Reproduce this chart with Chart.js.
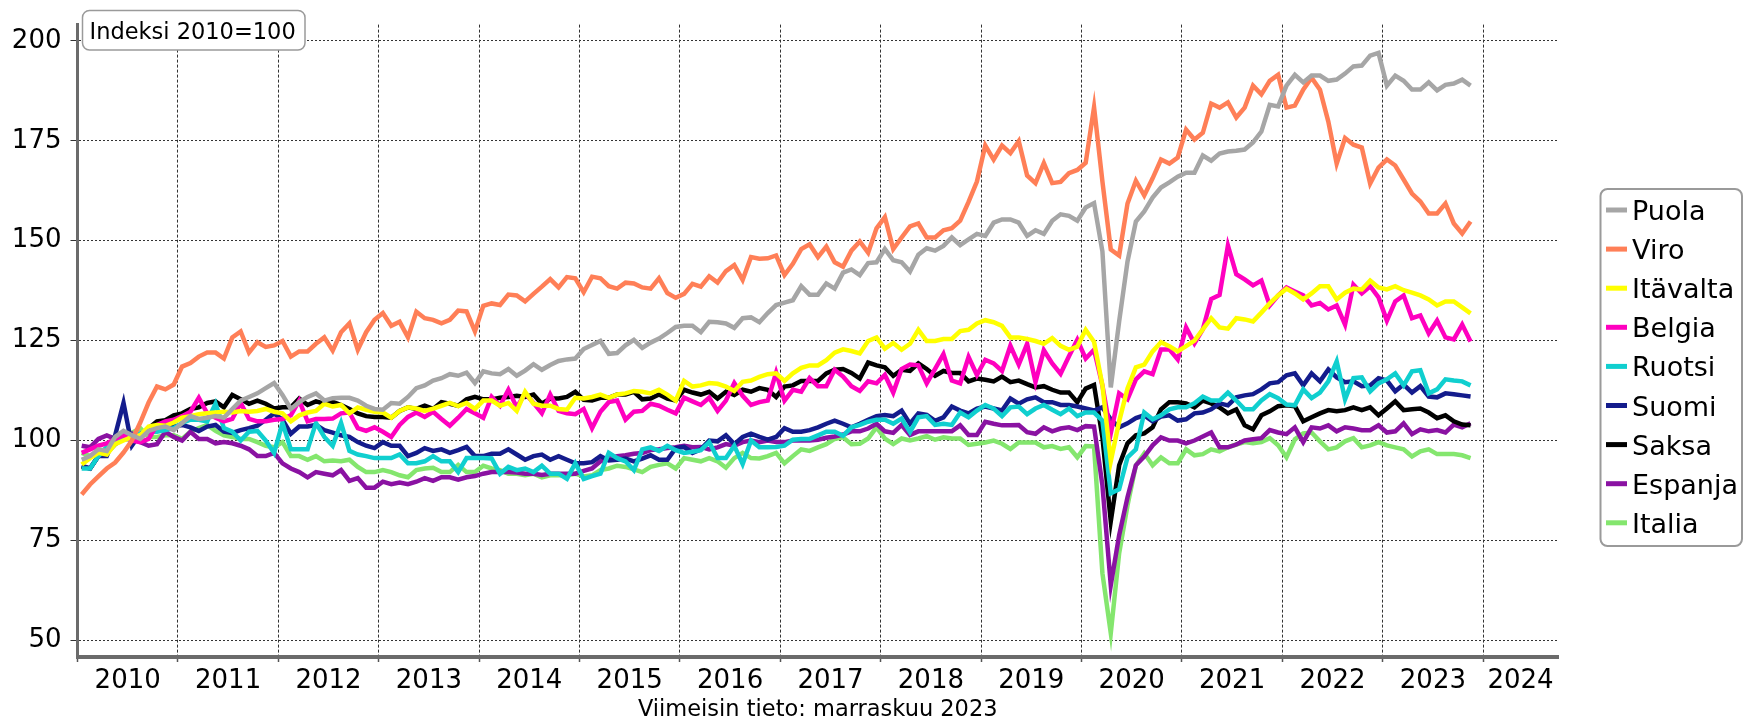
<!DOCTYPE html>
<html>
<head>
<meta charset="utf-8">
<script src="https://cdn.jsdelivr.net/npm/chart.js@4.4.0/dist/chart.umd.min.js"></script>
<style>
html,body{margin:0;padding:0;background:#fff;overflow:hidden}
#wrap{width:1744px;height:722px;position:relative}
</style>
</head>
<body>
<div id="wrap"><canvas id="c" width="1744" height="722"></canvas></div>
<script>
const startYear = 2010;
const yearTicks = [2010,2011,2012,2013,2014,2015,2016,2017,2018,2019,2020,2021,2022,2023,2024];
const yearLabels = ['2010','2011','2012','2013','2014','2015','2016','2017','2018','2019','2020','2021','2022','2023','2024'];
const yTicks = [50,75,100,125,150,175,200];
const boxLabel = 'Indeksi 2010=100';
const footerText = 'Viimeisin tieto: marraskuu 2023';
const seriesNames = ['Puola','Viro','Itävalta','Belgia','Ruotsi','Suomi','Saksa','Espanja','Italia'];
const seriesColors = ['#A6A6A6','#FF7F57','#FFFF00','#FF00BF','#10CFCF','#141C8C','#000000','#8A12A2','#84E66E'];

const puola = [95.2,96.1,97.8,97.4,100.9,102.4,101.3,100.4,102.4,103.1,
103.5,102.6,104.4,106.1,105.4,105.7,106.1,105.7,107.9,110,
110.9,111.8,113.1,114.4,111.4,107.9,109.6,110.9,111.8,110,
110.6,110.7,110.7,110,108.7,107.9,107.7,109.4,109.2,110.9,
113.1,113.8,115,115.6,116.6,116.2,117,114.4,117.3,116.8,
116.6,117.9,116.2,117.5,119.1,117.7,118.9,119.9,120.3,120.5,
122.9,123.9,124.9,121.7,121.9,123.8,125.2,123.2,124.5,125.5,
126.9,128.4,128.7,128.7,127.1,129.7,129.6,129.3,128.2,130.6,
130.8,129.6,131.9,133.9,134.5,135.1,138.6,136.5,136.5,139.3,
138,142,142.8,141.4,144.4,144.6,147.9,145.1,144.6,142.3,
146.5,148.1,147.5,148.7,150.8,148.9,150.3,151.7,151.2,154.5,
155.3,155.3,154.5,151.2,152.6,151.7,155,156.6,156.2,155,
158.3,159.4,147.3,113.3,129.8,144.8,154.8,157.3,160.8,163.3,
164.6,166,167,167,171.3,170,171.8,172.3,172.5,172.8,
174.6,177.3,184,183.6,188.8,191.5,189.6,191.3,191.3,190,
190.3,191.8,193.6,193.8,196.3,197,188.8,191.3,190,187.8,
187.8,189.6,187.6,189,189.3,190.3,188.8];

const viro = [86.5,89,91,93,94.5,97,100,104.5,109.5,113.5,
112.8,114,118.5,119.4,121,122,122,120.5,125.8,127.3,
122,124.6,123.4,123.8,124.9,121,122.3,122.3,124.2,125.8,
122.5,127.1,129.3,122.7,127.1,130.2,131.9,128.7,129.7,125.8,
132.2,130.6,130.2,129.3,130.2,132.5,132.3,127.3,133.7,134.3,
133.9,136.5,136.3,134.8,136.7,138.5,140.4,138.3,140.9,140.6,
137.1,141,140.6,138.6,138,139.5,139.3,138.3,138,140.6,
136.9,135.7,136.7,139.2,138.5,141.1,139.5,142.4,143.9,140.2,
145.9,145.5,145.6,146.3,141.4,144.2,147.9,149.1,145.9,148.5,
144.6,143.5,147.5,149.8,147,153.1,155.9,147.9,150.8,153.6,
154.3,150.8,150.8,152.6,153.1,155,159.7,164.8,173.8,170.3,
173.8,171.9,174.9,166.3,164.4,169.4,164.4,164.7,166.9,167.7,
169.5,183.4,164.8,147.8,146.3,159.3,165,161.3,165.6,170.3,
169.3,170.8,177.8,175.3,177,184.3,183.3,184.6,180.8,183.3,
188.8,186.6,190,191.5,183.3,183.8,187.8,190.8,187.8,179.8,
169.3,175.7,174,173.3,164.3,168.3,170.3,168.8,165.3,161.8,
159.8,156.8,156.8,159.3,154.3,151.8,154.8];

const itavalta = [94,95.6,96.9,96.5,99.1,100,100.9,101.3,103.5,103.9,
103.7,104.5,105.7,106.1,106.6,106.8,107,107.2,107,107.4,
107.2,107.4,107.9,107.2,106.8,104.8,106.3,107,107.4,109.2,
108.5,108.9,106.8,108.3,107.7,107.2,107,105.7,107.4,108.3,
108,107.4,108,108.7,109.4,108.6,109.4,107.9,110,110,
108.7,109.4,107.4,112.2,109.2,108.7,108.7,107.9,107.7,110.7,
110.5,110.9,111.5,110.7,111.5,111.8,112.4,112.2,111.8,112.7,
111.5,110,114.9,113.5,113.8,114.4,114.2,113.5,112.4,114.7,
115,115.9,116.6,116.8,114.9,116.8,118.2,118.8,118.8,120.1,
122,122.8,122.4,121.8,124.9,125.8,123,124.4,122.7,124.2,
127.7,124.9,124.9,125.4,125.4,127.4,127.7,129.3,130.1,129.6,
128.7,125.8,125.8,125.4,124.9,124.2,125.6,123.7,122.7,123.5,
127.7,124.7,113.8,94.8,104.8,113,118.3,119,122.3,124.6,
123.6,122.3,123.6,125,127.8,130.6,128.3,128,130.6,130.3,
129.8,132,134.3,136.3,138,136.8,135.3,136.8,138.6,138.6,
135.3,137,138,137.8,140,138.3,137.8,138.6,137.6,137,
136.3,135.3,133.8,134.8,134.8,133.3,131.8];

const belgia = [96.9,97.8,98.7,99.3,100.4,101.3,100,99.6,100.4,103.9,
104.8,105.2,106.1,107.2,110.7,106.8,105.7,104.8,105.4,109.4,
105.4,104.8,104.8,105.2,105.4,106.3,110,104.8,105.4,105.4,
105.5,106.8,107,103.1,102.4,103.3,102.2,100.9,103.9,105.9,
107,105.9,107.2,105.4,103.7,105.7,107.9,106.8,105.7,110.9,
108.7,112.7,108.3,111.8,109.4,106.8,111.5,107.4,106.8,106.6,
107.9,103.1,107.2,109.6,110,105.2,107.2,107.4,109.2,108.7,
107.7,106.8,110.7,109.8,108.9,110.7,107.4,110,114.4,111.2,
108.9,109.6,110,117,110,112.7,112.2,115.6,113.6,113.6,
117.7,116,113.6,112.4,114.8,114.3,116.4,112,117.9,119,
118.8,114.3,117.9,121.6,115,114.3,120.9,116.4,120.2,119.3,
117.4,123.7,119,124.2,114.6,122.6,119.3,116.7,121.1,125.2,
120.5,122.7,113.8,101.8,111.8,110.3,115.3,117.3,116.6,122.8,
122.8,120.3,128.3,124.3,127.8,135.4,136.4,148.8,141.6,140.3,
138.8,140,133.8,136.3,138.3,137.3,136.3,133.8,134.4,132.8,
133.8,129,139,136.8,138.6,135.8,130,134.8,136.3,130.6,
131.3,126.8,130,125.8,125.3,129,124.8];

const ruotsi = [93,93,96.1,98.3,99.6,100.9,101.3,101.7,102.2,102.2,
102.6,103.1,104.4,105.2,105.2,104.8,109.2,103.1,102.2,100,
102.2,102.4,100,96.9,104.4,97.8,97.8,97.8,104.4,100.9,
98.7,104.4,97.4,96.5,96.1,95.6,95.6,95.6,96.5,94.3,
94.3,94.8,96.1,94.8,94.8,92.1,95.6,95.6,95.6,95.5,
91.7,93.4,92.6,93,92.1,93.7,91.7,91.7,90.4,94.3,
90.4,91.1,91.7,96.9,95.6,94.8,92.6,97.8,98.3,97.4,
98.7,97.6,96.9,97.2,97.6,99.6,95.6,95.6,98.7,94.1,
100,98.3,98.3,98.4,98.7,100.2,100.4,100.4,101.3,102.2,
102.2,101.2,103.3,103.9,104.7,105.2,105.2,104.2,105.5,102.1,
105.8,106.1,103.9,104.2,103.9,107,105.8,107.5,108.9,108,
106.1,108.3,108.5,106.6,108,108.9,107.7,106.6,108,106.1,
107,107,105,86.8,87.8,95.8,97.8,107,105.3,106.3,
107.8,108.3,108.3,109.3,111,110,110,112,110,107.8,
107.8,110,111.6,110.6,109,108.8,112.8,110.6,112,114.8,
119.8,110.3,115.6,115.8,112.3,114.3,115.3,116.8,113.8,117.3,
117.6,111.8,112.8,115.3,115,114.8,113.8];

const suomi = [93.7,93,96.1,96.1,101.3,109.4,98.7,101.7,102.2,102.4,
103.9,103.5,103.9,103.3,102.4,103.5,103.9,102.2,101.9,102.6,
103.1,103.7,105.2,106.8,105.2,101.7,103.5,103.5,103.9,102.6,
102,101.3,100.9,99.6,98.7,98.1,99.6,98.7,98.7,96.1,
96.9,98.1,97.4,97.8,96.9,97.6,98.4,96.1,96.1,96.7,
96.7,97.8,96.5,95.2,96.1,96.5,95.2,96.1,95.2,94.3,
94.3,94.6,96.1,95,95.2,95.5,94.8,95.5,96.3,95.2,
95.2,98.1,98.4,96.9,97.8,100,99.8,101.3,99.1,100.9,
101.7,100.9,100.2,100.9,103.1,102.2,102.2,102.6,103.3,104.2,
105,104.2,103.3,104.2,105.2,106.1,106.4,106.1,107.5,104.2,
106.8,106.4,104.9,105.8,108.5,107.5,106.8,108,108.5,108,
107.5,110.5,109.2,110.3,110.8,109.6,109.6,108.9,108.9,108.5,
108,107.5,108.3,105.3,103.3,104.3,105.6,106.3,104.8,106,
106.3,105,105.3,106.8,107,107.8,109.3,108.8,110.8,111.3,
111.6,112.8,114.3,114.6,116.3,116.8,113.8,116.8,114.8,117.8,
115.8,114.6,114.8,113.6,113.8,115.6,115,112.3,114,112,
113.6,111,110.8,111.8,111.6,111.3,111];

const saksa = [93.4,93,96.1,96.9,99.1,100.4,100.4,101.3,103.1,104.8,
105.1,106.3,106.8,107.9,108.3,109.4,109.8,108.3,111.4,110.3,
109.2,110,109.2,108,108.3,108.3,110.5,108.9,109.8,109.2,
109.7,108.9,107.9,106.8,106.1,105.9,105.9,105.7,107.4,108.3,
107.9,108.7,107.9,109.6,109.2,108.7,110.3,110.9,110.3,110.3,
110.7,110.9,111.2,110.9,111.5,109.2,110.5,110.5,110.9,112.2,
110.2,110,110.7,110.7,111.5,111.5,112.2,110.3,110.5,111.5,
110.5,110,112.7,112,111.5,112.2,110.5,112.2,111.4,112.7,
112.2,113.1,112.7,110.9,113.5,113.8,114.9,114.9,114.9,116.8,
117.7,117.9,116.9,115.5,119.5,118.8,118.3,116.2,117.7,117.4,
119.3,117.9,116.2,117.4,116.9,116.9,114.8,115.5,115.2,114.8,
116,114.6,115,114.1,113.3,113.6,112.7,112,112,109.6,
113,113.9,100.8,79.8,93.8,99.3,101.3,101.8,103.3,107.8,
109.6,109.6,109.3,108.3,110,109.3,108.3,106.8,107.8,103.8,
102.8,106.3,107.3,108.6,108.8,108.6,104.8,105.8,106.8,107.6,
107.3,107.6,108.3,107.6,108.3,106.3,108,109.8,107.6,107.8,
108,107,105.6,106.3,104.8,104,103.8];

const espanja = [98.7,98.3,100.4,101.3,100.4,101.3,101.7,99.6,98.7,99.1,
102.2,100.9,100,102.2,100.4,100.4,99.3,99.6,99.3,98.7,
97.8,96.1,96.1,96.9,94.3,93,92.1,90.8,92.1,91.7,
91.3,92.6,89.9,90.6,88.2,88.2,89.7,89.1,89.5,89.1,
89.7,90.6,89.9,90.8,90.8,90.2,90.8,91.1,91.7,92.1,
92.1,92.1,92,91.7,91.7,91.4,91.7,91.7,91.7,91.7,
92.4,93,94.8,95.6,96.1,96.3,96.7,96.9,97.6,97.8,
98.1,98.3,98.7,98.3,98.4,97.8,98.3,99.1,98.7,99.6,
100,99.6,100,99.6,99.6,100,100,100,100.2,100.7,
101,101.5,102.3,102.3,103,104.2,102.3,101.9,103.9,101.4,
102.3,102.3,102.3,102.3,102.3,103.8,101.4,101.4,104.7,104.2,
103.8,103.8,103.9,102.1,101.7,103.3,102.3,103,103.3,102.6,
103.6,103.5,88.8,63.8,76.3,85.8,93.8,96,98.8,100.8,
100,100,99.3,100,101,102,98.3,98.3,99,100,
100.3,100.6,102.6,102,101.6,103.3,99.6,103.3,103,103.8,
102.3,103.3,103,102.6,102.6,103.8,102,102.3,104.3,101.6,
102.8,102.3,102.6,102,104,103.3,104.3];

const italia = [96.9,96.1,96.7,98.3,99.6,100.4,101.9,103.1,100.9,100.9,
101.3,101.3,100.4,102.2,103.1,103.9,102.4,101.3,100.9,100.4,
100.4,99.6,98.7,98.3,99.6,96.1,96.1,95.2,96.1,94.8,
95,94.8,95.2,93.4,92.1,92.1,92.6,92.1,91.3,90.8,
92.6,93,93.2,92.1,92.1,93.9,92.1,92.1,93.7,93,
92.6,91.7,91.7,91.3,91.7,90.8,91.3,91.3,91.3,91.7,
91,91.3,92.6,93,93.7,93.4,92.8,92.1,93.4,93.9,
94.3,93,95.6,95.2,94.8,95.6,94.8,93.2,95.6,96.9,
95.6,95.5,96.1,96.9,94.3,96.1,97.8,97.4,98.3,99.1,
100.4,100.8,99.1,99.2,100.5,103.3,100.5,99.1,100.5,100,
100.5,101.1,100.2,100.8,100.5,100.5,98.9,99.2,99.5,100,
99.2,97.9,99.5,99.5,99.5,98.3,98.6,97.9,98.3,95.8,
98.6,98.5,66.8,51.8,71.8,83.8,93.8,96.8,93.8,95.8,
94.3,94.3,97.8,96.3,96.6,97.8,97.3,98.3,99,99.6,
99.3,99.6,100.6,98.8,95.8,100.3,101.8,102,99.8,97.8,
98.3,99.8,100.6,98.3,98.8,99.6,98.8,98.3,97.8,96,
97.3,97.8,96.6,96.6,96.6,96.3,95.6];

const seriesValues = [puola, viro, itavalta, belgia, ruotsi, suomi, saksa, espanja, italia];

const FONT = 'DejaVu Sans';
const X_MIN = 2010, X_MAX = 2024.746;

function monthPos(i) { return startYear + (i + 0.5) / 12; }

const datasets = seriesNames.map((name, k) => ({
  label: name,
  data: seriesValues[k].map((v, i) => ({ x: monthPos(i), y: v })),
  borderColor: seriesColors[k],
  backgroundColor: seriesColors[k],
  borderWidth: 4.5,
  pointRadius: 0,
  tension: 0,
  fill: false
}));

function roundRect(ctx, x, y, w, h, r) {
  ctx.beginPath();
  ctx.moveTo(x + r, y);
  ctx.lineTo(x + w - r, y);
  ctx.arcTo(x + w, y, x + w, y + r, r);
  ctx.lineTo(x + w, y + h - r);
  ctx.arcTo(x + w, y + h, x + w - r, y + h, r);
  ctx.lineTo(x + r, y + h);
  ctx.arcTo(x, y + h, x, y + h - r, r);
  ctx.lineTo(x, y + r);
  ctx.arcTo(x, y, x + r, y, r);
  ctx.closePath();
}

const decor = {
  id: 'decor',
  afterDraw(chart) {
    const ctx = chart.ctx;
    const xs = chart.scales.x;
    const area = chart.chartArea;
    ctx.save();
    // year labels centred between year gridlines
    ctx.fillStyle = '#000';
    ctx.font = '26px "' + FONT + '"';
    ctx.textAlign = 'center';
    ctx.textBaseline = 'middle';
    yearTicks.forEach((yr, k) => {
      const a = xs.getPixelForValue(yr);
      const b = xs.getPixelForValue(Math.min(yr + 1, X_MAX));
      ctx.fillText(yearLabels[k], (a + b) / 2, 681);
    });
    // footer
    ctx.font = '22.5px "' + FONT + '"';
    ctx.fillText(footerText, (area.left + area.right) / 2, 710);

    // index label box
    ctx.font = '22.5px "' + FONT + '"';
    roundRect(ctx, 82.5, 10.5, 222.5, 39.5, 7);
    ctx.fillStyle = '#fff';
    ctx.fill();
    ctx.lineWidth = 1.5;
    ctx.strokeStyle = '#9a9a9a';
    ctx.stroke();
    ctx.fillStyle = '#000';
    ctx.textAlign = 'left';
    ctx.textBaseline = 'alphabetic';
    ctx.fillText(boxLabel, 89.5, 38.5);

    // legend
    roundRect(ctx, 1600.5, 189, 141.5, 357, 7);
    ctx.fillStyle = '#fff';
    ctx.fill();
    ctx.lineWidth = 2;
    ctx.strokeStyle = '#9a9a9a';
    ctx.stroke();
    ctx.font = '27px "' + FONT + '"';
    chart.data.datasets.forEach((ds, k) => {
      const y = 210 + k * 39.1;
      ctx.strokeStyle = ds.borderColor;
      ctx.lineWidth = 5;
      ctx.beginPath();
      ctx.moveTo(1606, y);
      ctx.lineTo(1627, y);
      ctx.stroke();
      ctx.fillStyle = '#000';
      ctx.fillText(ds.label, 1632, y + 10);
    });
    ctx.restore();
  }
};

new Chart(document.getElementById('c').getContext('2d'), {
  type: 'line',
  data: { datasets },
  options: {
    responsive: false,
    animation: false,
    devicePixelRatio: 1,
    layout: { padding: { left: 0, right: 186, top: 10, bottom: 0 } },
    plugins: { legend: { display: false }, tooltip: { enabled: false } },
    scales: {
      x: {
        type: 'linear',
        min: X_MIN,
        max: X_MAX,
        afterBuildTicks: s => { s.ticks = yearTicks.map(v => ({ value: v })); },
        afterFit: s => { s.height = 65; },
        ticks: { display: false },
        grid: { color: '#333', lineWidth: 1, drawTicks: true, tickLength: 5, tickColor: '#555', tickWidth: 1.5 },
        border: { display: true, color: '#6b6b6b', width: 4, dash: [3, 2] }
      },
      y: {
        type: 'linear',
        min: 45.84,
        max: 204.06,
        afterBuildTicks: s => { s.ticks = yTicks.map(v => ({ value: v })); },
        afterFit: s => { s.width = 77.5; },
        ticks: { font: { family: FONT, size: 26 }, color: '#000', padding: 9 },
        grid: { color: '#333', lineWidth: 1, drawTicks: true, tickLength: 7, tickColor: '#333' },
        border: { display: true, color: '#6b6b6b', width: 3, dash: [2, 2] }
      }
    }
  },
  plugins: [decor]
});
</script>
</body>
</html>
